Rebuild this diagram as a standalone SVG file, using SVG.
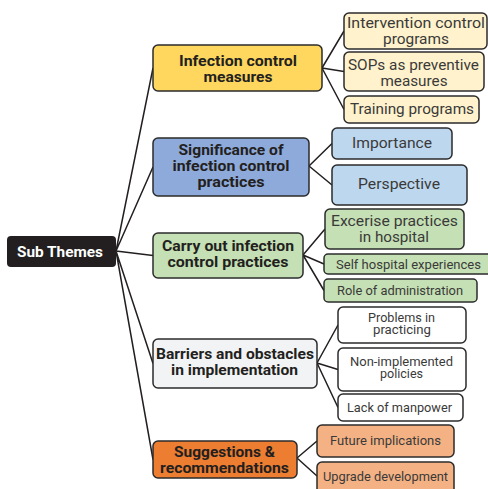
<svg xmlns="http://www.w3.org/2000/svg" width="488" height="489" viewBox="0 0 488 489">
<style>
.n{stroke:#2b2b2b;stroke-width:1.5}
.p{font-family:Roboto,"Liberation Sans",sans-serif;font-weight:bold;font-size:14px;fill:#231f20;text-anchor:middle}
.c{font-family:Roboto,"Liberation Sans",sans-serif;font-size:15px;fill:#3a3a3a;text-anchor:middle}
.s{font-size:13px}
.t{font-size:12px}
.e path{fill:none;stroke:#231f20;stroke-width:1.5}
</style>
<rect width="488" height="489" fill="#ffffff"/>
<g class="e" id="connectors">
<path d="M116 251L153 68M116 251L153 167M116 251L153 255.5M116 251L153 363.5M116 251L153 459.5"/>
<path d="M322 68L344 31M322 68L344 71.5M322 68L344 109.5"/>
<path d="M309 166L332 143.5M309 166L332 185"/>
<path d="M303 255L325 229M303 255L324 264M303 255L324 290.5"/>
<path d="M317 363L338 325M317 363L338 369.5M317 363L338 407.5"/>
<path d="M297 458L317 441M297 458L317 476"/>
</g>
<g id="root"><rect x="7" y="236" width="109" height="31" rx="4" fill="#231f20"/><text x="60" y="257" class="p" style="fill:#fff;font-size:15px" textLength="86" lengthAdjust="spacingAndGlyphs">Sub Themes</text></g>

<g id="n1"><rect class="n" x="153" y="45" width="169" height="46" rx="5" fill="#ffd75e"/><text class="p" x="238" y="66" textLength="118" lengthAdjust="spacingAndGlyphs">Infection control</text><text class="p" x="238" y="82" textLength="69" lengthAdjust="spacingAndGlyphs">measures</text></g>
<g id="n1a"><rect class="n" x="344" y="13" width="143" height="36" rx="5" fill="#fff2cc"/><text class="c" x="416" y="28" textLength="138" lengthAdjust="spacingAndGlyphs">Intervention control</text><text class="c" x="416" y="44" textLength="66" lengthAdjust="spacingAndGlyphs">programs</text></g>
<g id="n1b"><rect class="n" x="344" y="52" width="140" height="39" rx="5" fill="#fff2cc"/><text class="c" x="413.5" y="70" textLength="131" lengthAdjust="spacingAndGlyphs">SOPs as preventive</text><text class="c" x="414" y="86" textLength="67" lengthAdjust="spacingAndGlyphs">measures</text></g>
<g id="n1c"><rect class="n" x="344" y="96" width="135" height="27" rx="5" fill="#fff2cc"/><text class="c" x="412" y="114" textLength="124" lengthAdjust="spacingAndGlyphs">Training programs</text></g>

<g id="n2"><rect class="n" x="153" y="138" width="156" height="58" rx="5" fill="#8eaadb"/><text class="p" x="231" y="155" textLength="105" lengthAdjust="spacingAndGlyphs">Significance of</text><text class="p" x="231" y="171" textLength="117" lengthAdjust="spacingAndGlyphs">infection control</text><text class="p" x="231" y="187" textLength="67" lengthAdjust="spacingAndGlyphs">practices</text></g>
<g id="n2a"><rect class="n" x="332" y="128" width="120" height="31" rx="5" fill="#bdd7ee"/><text class="c" x="392" y="148" textLength="80" lengthAdjust="spacingAndGlyphs">Importance</text></g>
<g id="n2b"><rect class="n" x="332" y="165" width="135" height="40" rx="5" fill="#bdd7ee"/><text class="c" x="399" y="189" textLength="82" lengthAdjust="spacingAndGlyphs">Perspective</text></g>

<g id="n3"><rect class="n" x="153" y="233" width="150" height="45" rx="5" fill="#c5e0b4"/><text class="p" x="228" y="251" textLength="132" lengthAdjust="spacingAndGlyphs">Carry out infection</text><text class="p" x="228" y="267" textLength="121" lengthAdjust="spacingAndGlyphs">control practices</text></g>
<g id="n3a"><rect class="n" x="325" y="209" width="139" height="40" rx="5" fill="#c5e0b4"/><text class="c" x="394.5" y="226" textLength="127" lengthAdjust="spacingAndGlyphs">Excerise practices</text><text class="c" x="394" y="241.5" textLength="70" lengthAdjust="spacingAndGlyphs">in hospital</text></g>
<g id="n3b"><rect class="n" x="324" y="254" width="170" height="20" rx="4" fill="#c5e0b4"/><text class="c s" x="408.5" y="268.5" textLength="145" lengthAdjust="spacingAndGlyphs">Self hospital experiences</text></g>
<g id="n3c"><rect class="n" x="324" y="279" width="153" height="23" rx="4" fill="#c5e0b4"/><text class="c s" x="400" y="295" textLength="126" lengthAdjust="spacingAndGlyphs">Role of administration</text></g>

<g id="n4"><rect class="n" x="153" y="339" width="164" height="49" rx="5" fill="#f2f3f5"/><text class="p" x="235" y="359" textLength="158" lengthAdjust="spacingAndGlyphs">Barriers and obstacles</text><text class="p" x="234.5" y="375" textLength="127" lengthAdjust="spacingAndGlyphs">in implementation</text></g>
<g id="n4a"><rect class="n" x="338" y="307" width="128" height="36" rx="5" fill="#ffffff"/><text class="c t" x="401.5" y="322" textLength="67" lengthAdjust="spacingAndGlyphs">Problems in</text><text class="c t" x="402" y="334" textLength="58" lengthAdjust="spacingAndGlyphs">practicing</text></g>
<g id="n4b"><rect class="n" x="338" y="348" width="128" height="43" rx="5" fill="#ffffff"/><text class="c t" x="401.5" y="365.5" textLength="103" lengthAdjust="spacingAndGlyphs">Non-implemented</text><text class="c t" x="401.5" y="378" textLength="43" lengthAdjust="spacingAndGlyphs">policies</text></g>
<g id="n4c"><rect class="n" x="338" y="394" width="125" height="27" rx="5" fill="#ffffff"/><text class="c s" x="399.5" y="412" textLength="105" lengthAdjust="spacingAndGlyphs">Lack of manpower</text></g>

<g id="n5"><rect class="n" x="153" y="441" width="144" height="37" rx="5" fill="#ed7d31"/><text class="p" x="224.5" y="457" textLength="101" lengthAdjust="spacingAndGlyphs">Suggestions &amp;</text><text class="p" x="224.5" y="473" textLength="129" lengthAdjust="spacingAndGlyphs">recommendations</text></g>
<g id="n5a"><rect class="n" x="317" y="425" width="137" height="32" rx="5" fill="#f4b183"/><text class="c s" x="385.5" y="445" textLength="111" lengthAdjust="spacingAndGlyphs">Future implications</text></g>
<g id="n5b"><rect class="n" x="317" y="462" width="137" height="34" rx="5" fill="#f4b183"/><text class="c s" x="385.5" y="481" textLength="125" lengthAdjust="spacingAndGlyphs">Upgrade development</text></g>
</svg>
